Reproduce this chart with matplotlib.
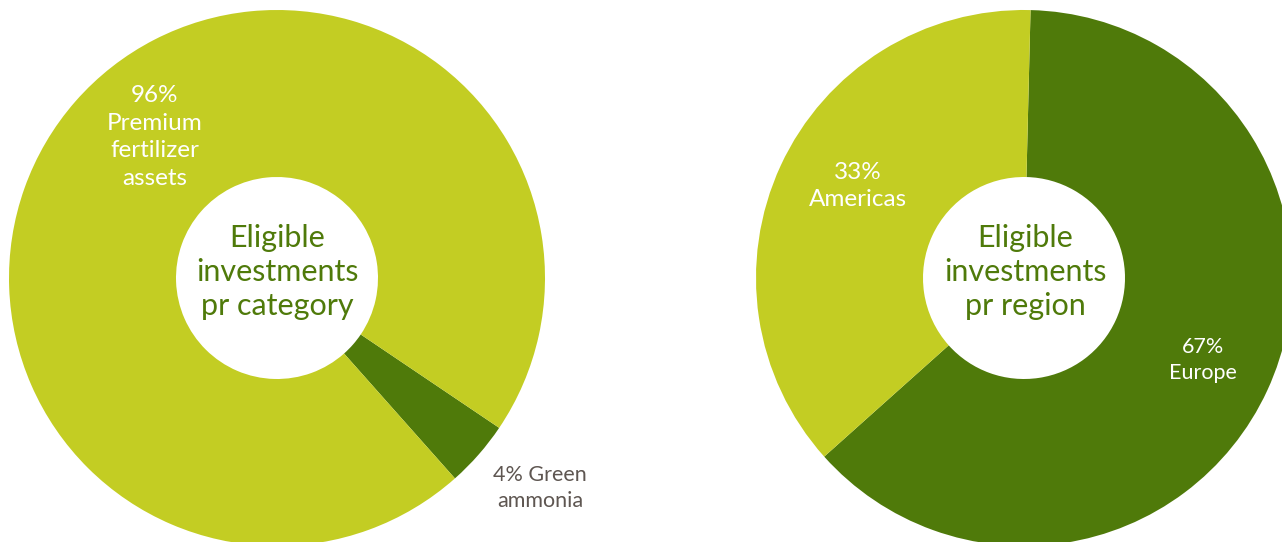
import matplotlib.pyplot as plt

# shares as drawn in the picture
category_names = ['Green ammonia', 'Premium fertilizer assets']
category_share = [4, 96]
region_names = ['Europe', 'Americas']
region_share = [63, 37]

category_labels = ['4% Green\nammonia', '96%\nPremium\nfertilizer\nassets']
region_labels = ['67%\nEurope', '33%\nAmericas']

light = '#C3CD23'
dark = '#4F7A0A'
grey = '#5E5651'

plt.rcParams['font.family'] = ['Lato', 'DejaVu Sans']

W, H = 1282, 542
fig = plt.figure(figsize=(W / 100, H / 100), dpi=100)
ax = fig.add_axes([0, 0, 1, 1])

R = 268
r_in = 101

# left donut: category
ax.pie(category_share, colors=[dark, light], startangle=-34, counterclock=False,
       center=(277, H - 278), radius=R,
       wedgeprops=dict(width=R - r_in, linewidth=0))
# right donut: region
ax.pie(region_share, colors=[dark, light], startangle=88.6, counterclock=False,
       center=(1024, H - 278), radius=R,
       wedgeprops=dict(width=R - r_in, linewidth=0))

ax.set_xlim(0, W)
ax.set_ylim(0, H)
ax.set_aspect('equal')
ax.axis('off')

# labels on the slices
ax.text(155, H - 137, category_labels[1], color='white', fontsize=17.5,
        ha='center', va='center', linespacing=1.4)
ax.text(540, H - 488, category_labels[0], color=grey, fontsize=15.5,
        ha='center', va='center', linespacing=1.35)
ax.text(858, H - 186, region_labels[1], color='white', fontsize=17.5,
        ha='center', va='center', linespacing=1.35)
ax.text(1203, H - 360, region_labels[0], color='white', fontsize=15.5,
        ha='center', va='center', linespacing=1.4)

# centre titles
ax.text(277, H - 272, 'Eligible\ninvestments\npr category', color=dark,
        fontsize=22, ha='center', va='center', linespacing=1.24)
ax.text(1025, H - 272, 'Eligible\ninvestments\npr region', color=dark,
        fontsize=22, ha='center', va='center', linespacing=1.24)

plt.savefig('out.png', dpi=100, facecolor='white')
